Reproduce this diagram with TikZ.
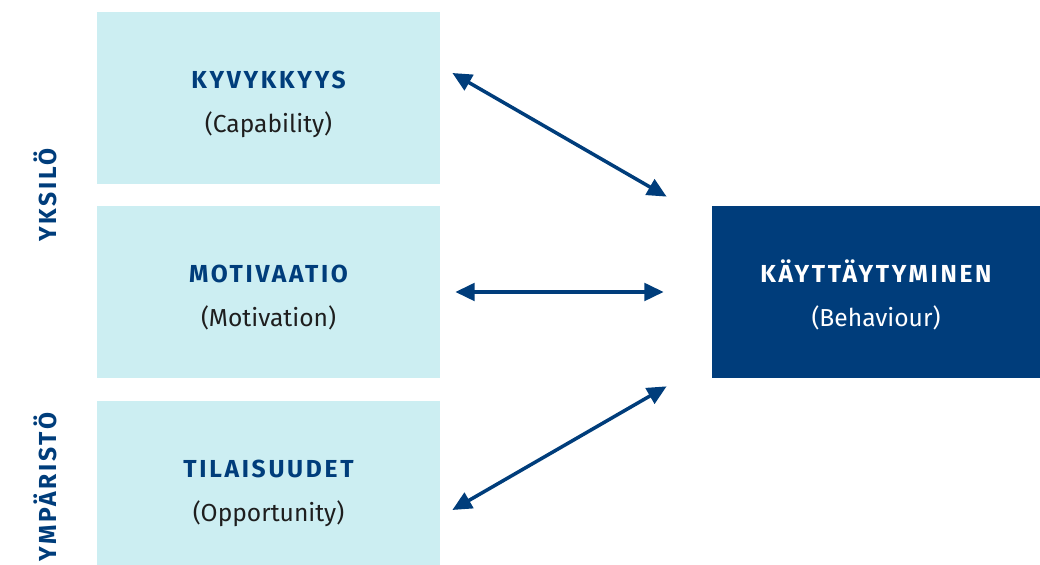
\documentclass[tikz,border=0pt]{standalone}
\usepackage{fontspec}
\setmainfont{Fira Sans}
\newfontfamily\harva[LetterSpace=11]{Fira Sans}
\usepackage{xcolor}
\usetikzlibrary{positioning,arrows.meta,calc}

\definecolor{tumma}{HTML}{003D7B}
\definecolor{vaalea}{HTML}{CCEEF2}
\definecolor{teksti}{HTML}{1E1E1E}

\begin{document}
\begin{tikzpicture}[
  laatikko/.style={
    fill=vaalea, minimum width=6.86cm, minimum height=3.44cm, inner sep=0pt
  },
  tulos/.style={laatikko, fill=tumma, minimum width=6.56cm},
  otsikko/.style={anchor=base, text=tumma,
    font=\fontsize{14}{16}\selectfont\harva\bfseries},
  selite/.style={anchor=base, text=teksti, font=\fontsize{14}{16}\selectfont},
  sivu/.style={
    rotate=90, text=tumma, font=\fontsize{14}{16}\selectfont\harva\bfseries
  },
  nuoli/.style={<->, line width=2pt, draw=tumma,
    >={Triangle[length=11pt, width=10pt]}}
]

  \useasboundingbox (0,0) rectangle (20.8,11.3);
  \clip (0,0) rectangle (20.8,11.3);

  % --- Laatikot ---
  \node[laatikko] (kyky) at (5.37, 9.34) {};
  \node[laatikko] (moti) at (5.37, 5.46) {};
  \node[laatikko] (tila) at (5.37, 1.56) {};
  \node[tulos]    (kay)  at (17.52, 5.46) {};

  % --- Tekstit: otsikko ja englanninkielinen selite ---
  \node[otsikko] (kyky-o) at ($(kyky.center)+(0,0.18)$) {KYVYKKYYS};
  \node[selite]  (kyky-s) at ($(kyky.center)+(0,-0.70)$) {(Capability)};

  \node[otsikko] (moti-o) at ($(moti.center)+(0,0.18)$) {MOTIVAATIO};
  \node[selite]  (moti-s) at ($(moti.center)+(0,-0.70)$) {(Motivation)};

  \node[otsikko] (tila-o) at ($(tila.center)+(0,0.18)$) {TILAISUUDET};
  \node[selite]  (tila-s) at ($(tila.center)+(0,-0.70)$) {(Opportunity)};

  \node[otsikko, text=white] (kay-o) at ($(kay.center)+(0,0.18)$) {KÄYTTÄYTYMINEN};
  \node[selite, text=white]  (kay-s) at ($(kay.center)+(0,-0.70)$) {(Behaviour)};

  % --- Sivuotsikot ---
  \node[sivu] (yksilo) at (0.9, 7.4) {YKSILÖ};
  \node[sivu] (ympa)   at (0.9, 1.56) {YMPÄRISTÖ};

  % --- Nuolet ---
  \coordinate (k1) at ($(kyky.east)+(0.24,0.50)$);
  \coordinate (k2) at ($(kay.north west)+(-0.90,0.18)$);
  \draw[nuoli] (k1) -- (k2);

  \draw[nuoli, shorten <=0.30cm, shorten >=0.96cm] (moti.east) -- (kay.west);

  \coordinate (t1) at ($(tila.east)+(0.24,-0.46)$);
  \coordinate (t2) at ($(kay.south west)+(-0.90,-0.16)$);
  \draw[nuoli] (t1) -- (t2);

\end{tikzpicture}
\end{document}
